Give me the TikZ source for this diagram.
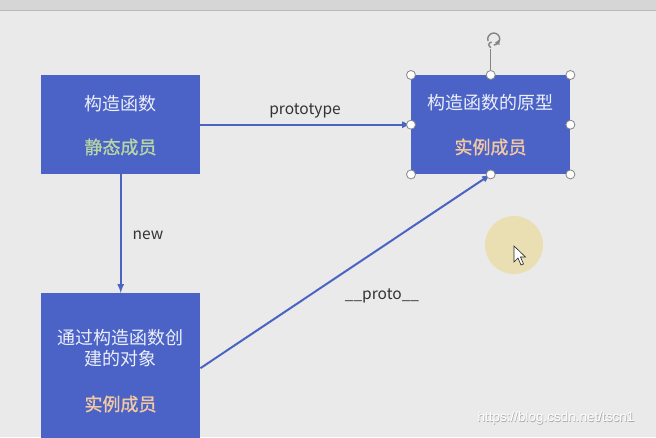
\documentclass[tikz,border=0pt]{standalone}
\usepackage{fontspec}
\setmainfont{Noto Sans CJK SC}
\newfontfamily\membercjk{Noto Sans CJK SC}[FakeBold=1.2]
\newfontfamily\wmfont{Liberation Sans}
\usetikzlibrary{arrows}
\definecolor{bggray}{HTML}{EAEAEA}
\definecolor{bargray}{HTML}{D6D6D6}
\definecolor{boxblue}{HTML}{4B63C6}
\definecolor{linkblue}{HTML}{4A64C2}
\definecolor{greentext}{HTML}{B6D7A4}
\definecolor{peachtext}{HTML}{F2C9A2}
\definecolor{handlegray}{HTML}{858585}
\definecolor{spotyellow}{HTML}{EBDDAA}

\begin{document}
\begin{tikzpicture}[x=1pt,y=-1pt,
    box/.style={fill=boxblue,minimum width=159pt,inner sep=0pt,anchor=north west},
    title/.style={text=white!90!boxblue,font=\fontsize{18}{21}\selectfont,align=center},
    member/.style={font=\membercjk\fontsize{18}{21}\selectfont},
    link/.style={draw=linkblue,line width=2pt,-latex},
    label/.style={text=black!80,font=\fontsize{15.5}{18}\selectfont},
    handle/.style={circle,draw=handlegray,fill=white,line width=0.8pt,minimum size=9pt,inner sep=0pt}]
    % --- BACKGROUND ---
    \useasboundingbox (0,0) rectangle (656,437);
    \clip (0,0) rectangle (656,437);
    \fill[bggray] (0,0) rectangle (656,437);
    \fill[bargray] (0,0) rectangle (656,9.5);
    \draw[black!28,line width=0.8pt] (0,10) -- (656,10);

    % --- BOXES ---
    \node[box,minimum height=99pt] (ctor) at (41,75) {};
    \node[box,minimum height=99pt] (proto) at (411,75) {};
    \node[box,minimum height=150pt] (obj) at (41,293) {};

    \node[title] (ctortitle) at (120.5,104) {构造函数};
    \node[member,text=greentext] (ctorstatic) at (120.5,147) {静态成员};
    \node[title] (prototitle) at (490.5,103) {构造函数的原型};
    \node[member,text=peachtext] (protomember) at (490.5,147) {实例成员};
    \node[title] (objtitle) at (120.5,348) {通过构造函数创\\建的对象};
    \node[member,text=peachtext] (objmember) at (120.5,404) {实例成员};

    % --- LINKS ---
    \draw[link] (ctor.east) -- (proto.west);
    \draw[link] (ctor.south) -- (obj.north);
    \draw[link] (obj.east) -- (proto.south);
    \node[label] (lprototype) at (305,111) {prototype};
    \node[label] (lnew) at (148,235) {new};
    \node[label] (lproto) at (382,296) {\_\_proto\_\_};

    % --- SELECTION HANDLES ---
    \draw[handlegray,line width=0.8pt] (proto.north) -- ++(0,-26) coordinate (rot);
    \draw[handlegray,line width=1.4pt] ([shift={(3,0)}]rot) ++(0,-4) arc (90:-200:6)
        ([shift={(1,0)}]rot) ++(0,-7) arc (-90:-250:3);
    \fill[handlegray] ([shift={(4,-6)}]rot) -- ++(4,-3) -- ++(1,5) -- cycle;
    \foreach \a in {north west,north,north east,west,east,south west,south,south east}
        \node[handle] at (proto.\a) {};

    % --- POINTER ---
    \fill[spotyellow,opacity=0.85] (514,245) circle (29pt);
    \filldraw[fill=white,draw=black!85,line width=0.6pt] (514,246) -- (514,262) -- (518,258)
        -- (521,265) -- (523.5,264) -- (520.5,257) -- (525.5,257) -- cycle;

    % --- WATERMARK ---
    \node[text=black!35,font=\wmfont\fontsize{13.5}{16}\selectfont] at (556.6,418.6) {https://blog.csdn.net/tscn1};
    \node[text=white,font=\wmfont\fontsize{13.5}{16}\selectfont] (wm) at (556,418) {https://blog.csdn.net/tscn1};
\end{tikzpicture}
\end{document}
